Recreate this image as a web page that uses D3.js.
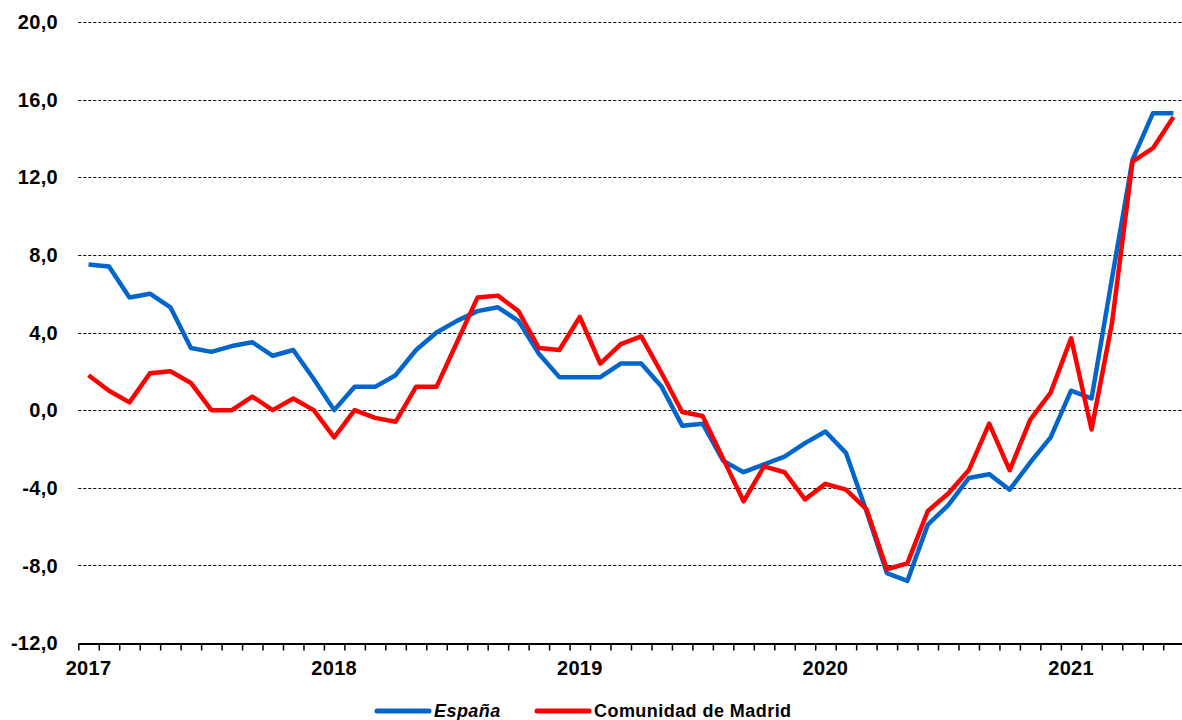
<!DOCTYPE html>
<html>
<head>
<meta charset="utf-8">
<script src="https://cdn.jsdelivr.net/npm/d3@7"></script>
<style>
  body { margin: 0; background: #fff; }
  svg { display: block; font-family: "Liberation Sans", Arial, sans-serif; }
</style>
</head>
<body>
<div id="chart-area"></div>
<script>
// Monthly data, Jan 2017 - Jun 2021
const years = ["2017", "2018", "2019", "2020", "2021"];
const espana = [
    7.5, 7.4, 5.8, 6.0, 5.3, 3.2, 3.0, 3.3, 3.5, 2.8, 3.1, 1.6,
    0.0, 1.2, 1.2, 1.8, 3.1, 4.0, 4.6, 5.1, 5.3, 4.6, 2.9, 1.7,
    1.7, 1.7, 2.4, 2.4, 1.2, -0.8, -0.7, -2.6, -3.2, -2.8, -2.4, -1.7,
    -1.1, -2.2, -5.2, -8.4, -8.8, -5.9, -4.9, -3.5, -3.3, -4.1, -2.7, -1.4,
    1.0, 0.6, 6.8, 12.9, 15.3, 15.3
];
const madrid = [
    1.8, 1.0, 0.4, 1.9, 2.0, 1.4, 0.0, 0.0, 0.7, 0.0, 0.6, 0.0,
    -1.4, 0.0, -0.4, -0.6, 1.2, 1.2, 3.5, 5.8, 5.9, 5.1, 3.2, 3.1,
    4.8, 2.4, 3.4, 3.8, 1.9, -0.1, -0.3, -2.5, -4.7, -2.9, -3.2, -4.6,
    -3.8, -4.1, -5.1, -8.2, -7.9, -5.2, -4.3, -3.1, -0.7, -3.1, -0.5, 0.9,
    3.7, -1.0, 4.5, 12.8, 13.5, 15.1
];
const yTicks = [-12, -8, -4, 0, 4, 8, 12, 16, 20];

const width = 1182;
const height = 720;
const left = 78.3;
const monthWidth = 20.47;
const nMonths = espana.length;

const svg = d3.select("#chart-area")
    .append("svg")
    .attr("width", width)
    .attr("height", height);

// x: month index -> pixel (category boundaries on integers)
const x = d3.scaleLinear()
    .domain([0, nMonths])
    .range([left, left + nMonths * monthWidth]);

const y = d3.scaleLinear()
    .domain([-12, 20])
    .range([643, 22]);

const fmt = d3.formatLocale({ decimal: ",", thousands: ".", grouping: [3], currency: ["", " €"], minus: "-" }).format(".1f");

// dashed gridlines
svg.selectAll(".grid")
    .data(yTicks.filter(d => d > -12))
    .enter()
    .append("line")
    .attr("class", "grid")
    .attr("x1", left)
    .attr("x2", width)
    .attr("y1", d => Math.round(y(d)) + 0.5)
    .attr("y2", d => Math.round(y(d)) + 0.5)
    .attr("stroke", "#000")
    .attr("stroke-width", 1)
    .attr("stroke-dasharray", "3,2");

// y labels
svg.selectAll(".y-label")
    .data(yTicks)
    .enter()
    .append("text")
    .attr("class", "y-label")
    .attr("x", 58)
    .attr("y", d => y(d))
    .attr("dy", "0.36em")
    .attr("text-anchor", "end")
    .style("font-size", "20px")
    .style("font-weight", "bold")
    .style("letter-spacing", "0.3px")
    .text(d => fmt(d));

// x axis with monthly ticks
const xAxis = d3.axisBottom(x)
    .tickValues(d3.range(0, nMonths))
    .tickSize(7)
    .tickSizeOuter(0)
    .tickFormat("");
svg.append("g")
    .attr("transform", `translate(0,${Math.round(y(-12)) + 0.5})`)
    .call(xAxis)
    .call(g => g.selectAll("line").attr("stroke", "#000").attr("stroke-width", 1.5))
    .call(g => g.select(".domain").attr("stroke", "#000").attr("stroke-width", 2));

// year labels under January
svg.selectAll(".year-label")
    .data(years)
    .enter()
    .append("text")
    .attr("class", "year-label")
    .attr("x", (d, i) => x(i * 12 + 0.5))
    .attr("y", 675)
    .attr("text-anchor", "middle")
    .style("font-size", "20px")
    .style("font-weight", "bold")
    .style("letter-spacing", "0.3px")
    .text(d => d);

// lines
const line = d3.line()
    .x((d, i) => x(i + 0.5))
    .y(d => y(d));

svg.append("path")
    .datum(espana)
    .attr("d", line)
    .attr("fill", "none")
    .attr("stroke", "#0066cc")
    .attr("stroke-width", 4.5)
    .attr("stroke-linejoin", "round");

svg.append("path")
    .datum(madrid)
    .attr("d", line)
    .attr("fill", "none")
    .attr("stroke", "#ff0000")
    .attr("stroke-width", 4.5)
    .attr("stroke-linejoin", "round");

// legend
const legend = [
    { name: "España", color: "#0066cc", x: 377, italic: true },
    { name: "Comunidad de Madrid", color: "#ff0000", x: 537, italic: false }
];
const lg = svg.selectAll(".legend")
    .data(legend)
    .enter()
    .append("g")
    .attr("class", "legend")
    .attr("transform", d => `translate(${d.x},711)`);
lg.append("line")
    .attr("x1", 0)
    .attr("x2", 52)
    .attr("stroke", d => d.color)
    .attr("stroke-width", 5)
    .attr("stroke-linecap", "round");
lg.append("text")
    .attr("x", 57)
    .attr("dy", "0.36em")
    .style("font-size", "18px")
    .style("font-weight", "bold")
    .style("letter-spacing", "0.45px")
    .style("font-style", d => d.italic ? "italic" : "normal")
    .text(d => d.name);
</script>
</body>
</html>
